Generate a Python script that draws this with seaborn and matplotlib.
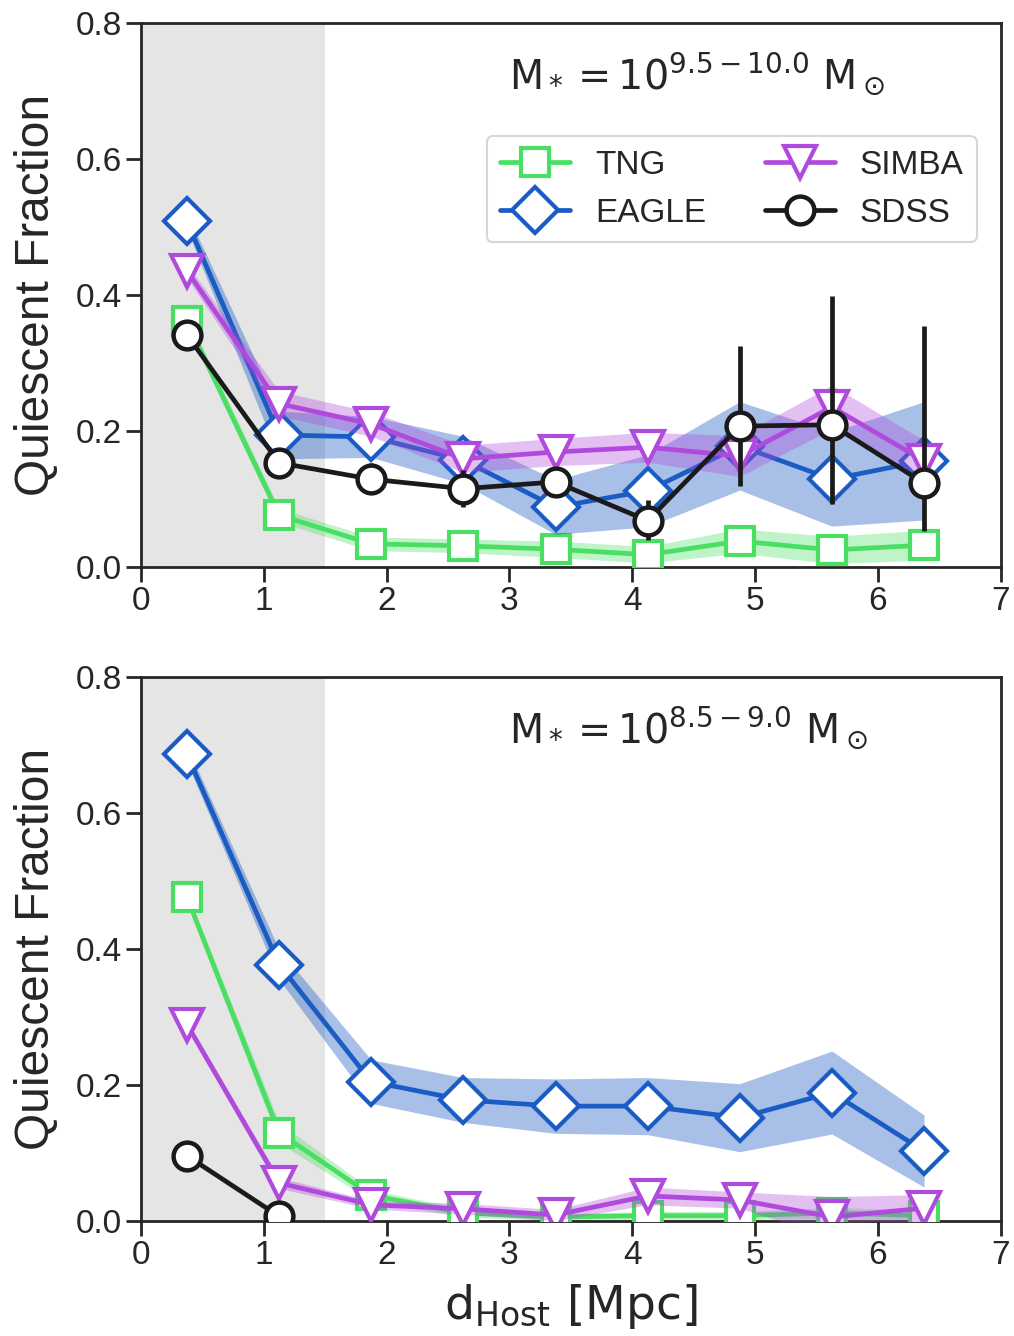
import numpy as np
import pandas as pd
import seaborn as sns
import matplotlib
matplotlib.use("Agg")
import matplotlib.pyplot as plt

# Distance bin centres [Mpc]
d_host = [0.375, 1.125, 1.875, 2.625, 3.375, 4.125, 4.875, 5.625, 6.375]

# --- High-mass bin: M* = 10^(9.5-10.0) ---
tng_hi = [0.361, 0.076, 0.034, 0.031, 0.026, 0.018, 0.038, 0.025, 0.032]
tng_hi_err = [0.010, 0.010, 0.010, 0.010, 0.012, 0.012, 0.018, 0.020, 0.022]
eagle_hi = [0.508, 0.194, 0.191, 0.157, 0.088, 0.112, 0.178, 0.129, 0.156]
eagle_hi_err = [0.012, 0.035, 0.030, 0.035, 0.040, 0.053, 0.065, 0.069, 0.087]
simba_hi = [0.435, 0.240, 0.210, 0.159, 0.169, 0.176, 0.163, 0.235, 0.156]
simba_hi_err = [0.010, 0.018, 0.018, 0.020, 0.020, 0.022, 0.030, 0.032, 0.030]
sdss_hi = [0.341, 0.153, 0.129, 0.115, 0.125, 0.068, 0.207, 0.209, 0.123]
sdss_hi_lo = [0.020, 0.020, 0.022, 0.027, 0.022, 0.028, 0.088, 0.116, 0.070]
sdss_hi_up = [0.020, 0.020, 0.024, 0.027, 0.022, 0.030, 0.118, 0.189, 0.231]

# --- Low-mass bin: M* = 10^(8.5-9.0) ---
tng_lo = [0.476, 0.130, 0.038, 0.012, 0.006, 0.008, 0.008, 0.012, 0.008]
tng_lo_err = [0.008, 0.015, 0.008, 0.006, 0.005, 0.006, 0.006, 0.008, 0.008]
eagle_lo = [0.686, 0.377, 0.205, 0.178, 0.169, 0.169, 0.152, 0.189, 0.103]
eagle_lo_err = [0.012, 0.022, 0.032, 0.033, 0.040, 0.042, 0.050, 0.061, 0.053]
simba_lo = [0.289, 0.056, 0.024, 0.018, 0.009, 0.037, 0.031, 0.006, 0.019]
simba_lo_err = [0.006, 0.008, 0.006, 0.008, 0.008, 0.013, 0.012, 0.030, 0.020]
sdss_lo = [0.096, 0.007]
sdss_lo_err = [0.010, 0.010]

mass_labels = [r"$\mathrm{M_* = 10^{9.5-10.0}\ M_\odot}$",
               r"$\mathrm{M_* = 10^{8.5-9.0}\ M_\odot}$"]

colors = {"TNG": "#4ade63", "EAGLE": "#1a5bc4", "SIMBA": "#b04adc", "SDSS": "#1a1a1a"}
markers = {"TNG": "s", "EAGLE": "D", "SIMBA": "v", "SDSS": "o"}
msizes = {"TNG": 20, "EAGLE": 23, "SIMBA": 23, "SDSS": 20}

sns.set_theme(style="ticks")
plt.rcParams["font.family"] = ["Liberation Sans", "DejaVu Sans"]
plt.rcParams["mathtext.fontset"] = "dejavusans"

fig, axes = plt.subplots(2, 1, figsize=(10.14, 13.36), dpi=100)
fig.subplots_adjust(left=0.139, right=0.987, top=0.983, bottom=0.086, hspace=0.202)

panels = [
    dict(TNG=(tng_hi, tng_hi_err), EAGLE=(eagle_hi, eagle_hi_err),
         SIMBA=(simba_hi, simba_hi_err), SDSS=(sdss_hi, sdss_hi_lo, sdss_hi_up)),
    dict(TNG=(tng_lo, tng_lo_err), EAGLE=(eagle_lo, eagle_lo_err),
         SIMBA=(simba_lo, simba_lo_err), SDSS=(sdss_lo, sdss_lo_err, sdss_lo_err)),
]

for ax, panel, label in zip(axes, panels, mass_labels):
    ax.axvspan(0, 1.5, color="#e5e5e5", zorder=0, lw=0)
    for z, name in enumerate(["TNG", "EAGLE", "SIMBA"]):
        y, e = panel[name]
        x = d_host[:len(y)]
        y = np.asarray(y)
        e = np.asarray(e)
        ax.fill_between(x, y - e, y + e, color=colors[name],
                        alpha=0.35 if name != "EAGLE" else 0.38,
                        lw=0, zorder=2 + 2 * z)
        df = pd.DataFrame({"d": x, "f": y})
        sns.lineplot(data=df, x="d", y="f", ax=ax, color=colors[name], lw=3.4,
                     marker=markers[name], markersize=msizes[name],
                     markerfacecolor="white", markeredgecolor=colors[name],
                     markeredgewidth=3.0, zorder=3 + 2 * z, label=name, legend=False)
    y, lo, up = panel["SDSS"]
    x = d_host[:len(y)]
    ax.errorbar(x, y, yerr=[lo, up], fmt="none", ecolor=colors["SDSS"], elinewidth=3.4,
                capsize=0, zorder=9)
    df = pd.DataFrame({"d": x, "f": y})
    sns.lineplot(data=df, x="d", y="f", ax=ax, color=colors["SDSS"], lw=3.4,
                 marker=markers["SDSS"], markersize=msizes["SDSS"],
                 markerfacecolor="white", markeredgecolor=colors["SDSS"],
                 markeredgewidth=3.2, zorder=10, label="SDSS", legend=False)

    ax.set_xlim(0, 7)
    ax.set_ylim(0, 0.8)
    ax.set_xticks(range(0, 8))
    ax.set_yticks([0.0, 0.2, 0.4, 0.6, 0.8])
    ax.set_yticklabels(["0.0", "0.2", "0.4", "0.6", "0.8"])
    ax.set_ylabel("Quiescent Fraction", fontsize=34.5, labelpad=12)
    ax.set_xlabel("")
    ax.tick_params(axis="both", labelsize=24, length=10.5, width=2, color="#262626",
                   labelcolor="#262626", pad=3)
    for s in ax.spines.values():
        s.set_linewidth(2)
        s.set_color("#262626")
    ax.text(3.0, 0.724, label, fontsize=28.5, color="#262626", va="center", ha="left")

axes[1].set_xlabel(r"$\mathrm{d_{Host}\ [Mpc]}$", fontsize=34, labelpad=8)

h, l = axes[0].get_legend_handles_labels()
leg = axes[0].legend(h, l, ncol=2, loc="upper right", bbox_to_anchor=(0.972, 0.791),
                     borderaxespad=0, fontsize=24, handlelength=2.1, columnspacing=1.75,
                     frameon=True, borderpad=0.4, labelspacing=0.52, handletextpad=0.75)
leg.get_frame().set_edgecolor("#cccccc")
leg.get_frame().set_linewidth(1.5)

fig.savefig("out.png", dpi=100)
